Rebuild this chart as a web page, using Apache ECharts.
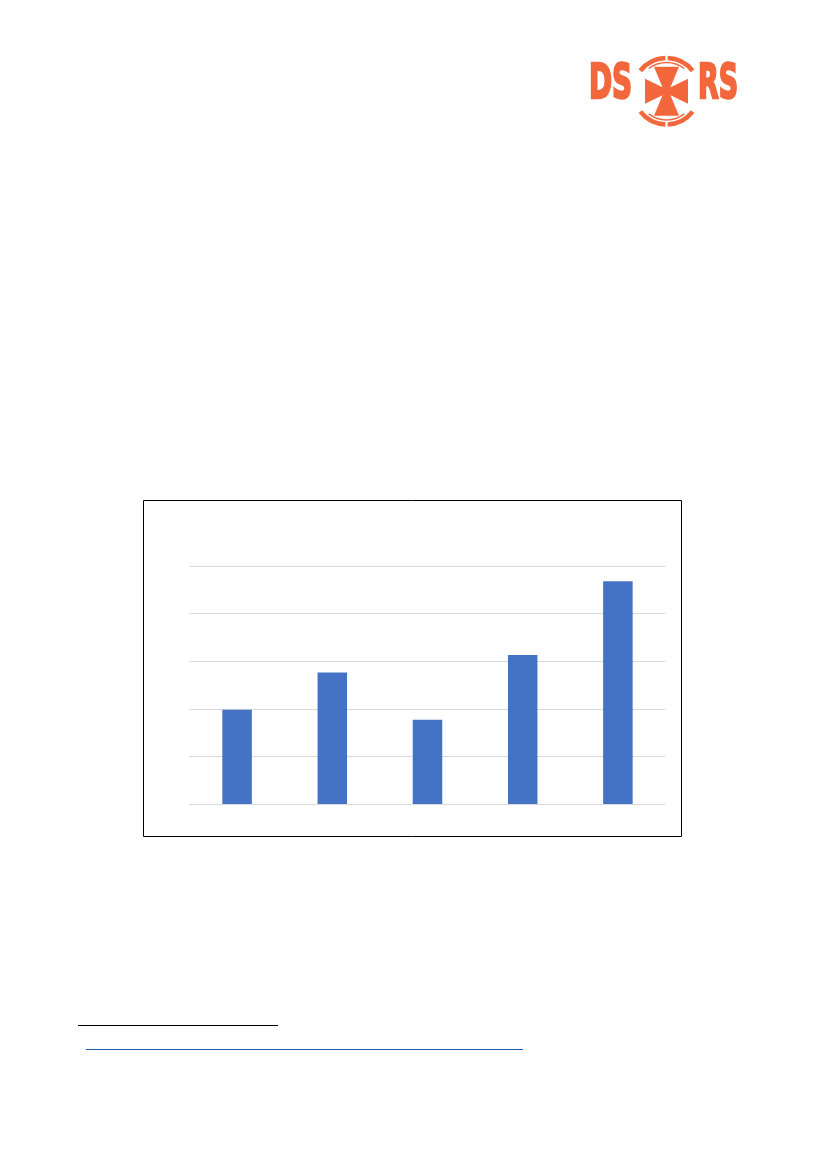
<!DOCTYPE html>
<html>
<head>
<meta charset="utf-8">
<style>
html,body{margin:0;padding:0;background:#fff;}
#c{width:827px;height:1169px;}
</style>
<script src="https://cdn.jsdelivr.net/npm/echarts@6/dist/echarts.min.js"></script>
</head>
<body>
<div id="c"></div>
<script>
const categories = ['1', '2', '3', '4', '5'];
const values = [1.98, 2.76, 1.77, 3.13, 4.68];
const yTicks = [0, 1, 2, 3, 4, 5];

const chart = echarts.init(document.getElementById('c'), null, {renderer: 'canvas'});
const orange = '#F2673C';
const cx = 666.5, cy = 91.2;
const crossPts = [
  [cx-12.5, cy-24.5], [cx+12.5, cy-24.5], [cx+4, cy-4], [cx+21.5, cy-12.5], [cx+21.5, cy+12.5], [cx+4, cy+4],
  [cx+12.5, cy+24.5], [cx-12.5, cy+24.5], [cx-4, cy+4], [cx-21.5, cy+12.5], [cx-21.5, cy-12.5], [cx-4, cy-4]
];
const deg = Math.PI / 180;
function arc(r, a0, a1, w) {
  return {type: 'arc', silent: true, shape: {cx: cx, cy: cy, r: r, startAngle: a0*deg, endAngle: a1*deg},
    style: {stroke: orange, lineWidth: w, fill: null}};
}
chart.setOption({
  backgroundColor: '#ffffff',
  animation: false,
  grid: {left: 189.5, top: 566, width: 476, height: 238, containLabel: false},
  xAxis: {
    type: 'category', data: categories,
    axisLine: {show: false}, axisTick: {show: false}, axisLabel: {show: false}
  },
  yAxis: {
    type: 'value', min: yTicks[0], max: yTicks[yTicks.length-1], interval: 1,
    axisLine: {show: false}, axisTick: {show: false}, axisLabel: {show: false},
    splitLine: {lineStyle: {color: '#d9d9d9', width: 1}}
  },
  series: [{
    type: 'bar', data: values, barWidth: '31%',
    itemStyle: {color: '#4472C4'}
  }],
  graphic: [
    {type: 'rect', silent: true, shape: {x: 143.5, y: 500.5, width: 538, height: 336},
      style: {fill: null, stroke: '#000', lineWidth: 1}},
    {type: 'line', silent: true, shape: {x1: 78, y1: 1025.5, x2: 278, y2: 1025.5},
      style: {stroke: '#000', lineWidth: 1}},
    {type: 'line', silent: true, shape: {x1: 86, y1: 1049.5, x2: 523, y2: 1049.5},
      style: {stroke: '#1F5FB4', lineWidth: 1}},
    {type: 'text', silent: true, x: 589, y: 86, scaleX: 0.58,
      style: {text: 'DS', font: 'bold 48px "DejaVu Sans"', fill: orange, stroke: orange, lineWidth: 2.5,
        textAlign: 'left', textVerticalAlign: 'middle'}},
    {type: 'text', silent: true, x: 698, y: 86, scaleX: 0.56,
      style: {text: 'RS', font: 'bold 48px "DejaVu Sans"', fill: orange, stroke: orange, lineWidth: 2.5,
        textAlign: 'left', textVerticalAlign: 'middle'}},
    {type: 'polygon', silent: true, shape: {points: crossPts}, style: {fill: orange}},
    arc(33.2, 218, 268, 4.5), arc(33.2, 272, 322, 4.5),
    arc(33.2, 38, 88, 4.5), arc(33.2, 92, 142, 4.5),
    arc(28.8, 232, 308, 1.5), arc(28.8, 52, 128, 1.5)
  ]
});
</script>
</body>
</html>
